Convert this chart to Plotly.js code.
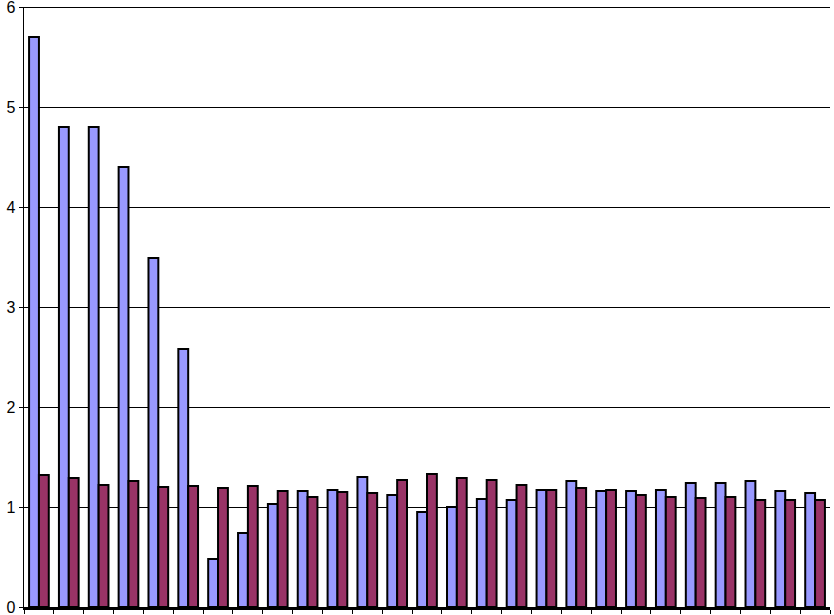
<!DOCTYPE html>
<html>
<head>
<meta charset="utf-8">
<script src="https://cdn.plot.ly/plotly-3.0.1.min.js"></script>
<style>html,body{margin:0;padding:0;background:#fff;}#chart{width:834px;height:615px;}</style>
</head>
<body>
<div id="chart"></div>
<script>
var categories = ["1","2","3","4","5","6","7","8","9","10","11","12","13","14","15","16","17","18","19","20","21","22","23","24","25","26","27"];
var seriesA = [5.70,4.80,4.80,4.40,3.49,2.58,0.48,0.74,1.03,1.16,1.17,1.30,1.12,0.95,1.00,1.08,1.07,1.17,1.26,1.16,1.16,1.17,1.24,1.24,1.26,1.16,1.14];
var seriesB = [1.32,1.29,1.22,1.26,1.20,1.21,1.19,1.21,1.16,1.10,1.15,1.14,1.27,1.33,1.29,1.27,1.22,1.17,1.19,1.17,1.12,1.10,1.09,1.10,1.07,1.07,1.07];
var yTicks = [0,1,2,3,4,5,6];

var traces = [
  {type:'bar', x:categories, y:seriesA, name:'A',
   marker:{color:'#9999FF', line:{color:'#000000', width:2}}},
  {type:'bar', x:categories, y:seriesB, name:'B',
   marker:{color:'#993366', line:{color:'#000000', width:2}}}
];
var layout = {
  width:834, height:615,
  margin:{l:24, r:4, t:7, b:8, pad:0},
  paper_bgcolor:'#ffffff', plot_bgcolor:'#ffffff',
  showlegend:false,
  barmode:'group', bargap:0.34, bargroupgap:0,
  font:{family:'Liberation Sans, Arial, sans-serif', size:16, color:'#000'},
  xaxis:{type:'category', showticklabels:false, ticks:'outside', tickson:'boundaries',
         ticklen:4, tickcolor:'#000', showgrid:false, showline:true, linecolor:'#000', linewidth:3,
         zeroline:false},
  yaxis:{range:[0,6], tickvals:yTicks, ticktext:yTicks.map(String), ticks:'outside', ticklen:4,
         tickcolor:'#000', showline:true, linecolor:'#000', linewidth:1.5,
         showgrid:true, gridcolor:'#000', gridwidth:1, zeroline:false,
         ticklabeloverflow:'allow', tickfont:{size:16}},
  shapes:[{type:'line', xref:'paper', x0:0, x1:1, yref:'y', y0:6, y1:6,
           line:{color:'#000', width:2}, layer:'above'}]
};
Plotly.newPlot('chart', traces, layout, {displayModeBar:false, staticPlot:true});
</script>
</body>
</html>
